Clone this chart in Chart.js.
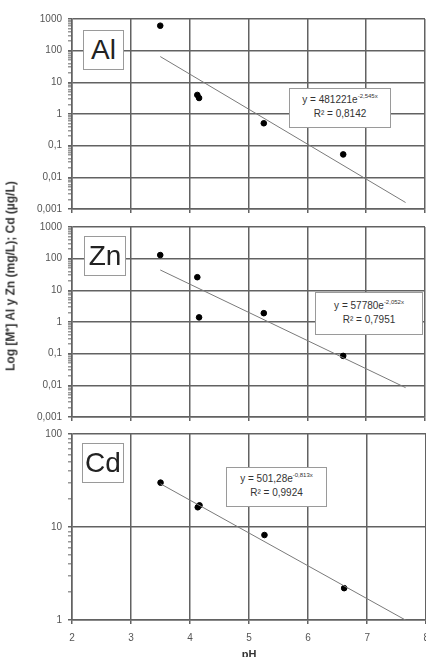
<!DOCTYPE html>
<html>
<head>
<meta charset="utf-8">
<script src="https://cdn.jsdelivr.net/npm/chart.js@4"></script>
<style>
  html, body { margin:0; padding:0; background:#fff; overflow:hidden; }
  body { width:426px; height:657px; position:relative; overflow:hidden; font-family:"Liberation Sans", Arial, sans-serif; }
  .panel { position:absolute; left:0; }
  .elem { position:absolute; border:1.5px solid #9a9a9a; background:#fff; box-sizing:border-box;
          font-size:28px; color:#222; text-align:center; line-height:37px; }
  .eq { position:absolute; border:1px solid #9a9a9a; background:#fff; box-sizing:border-box;
        font-size:10px; color:#333; text-align:center; line-height:14px; padding-top:4px; }
  .eq sup { font-size:6px; vertical-align:5px; line-height:0; }
  .ytitle { position:absolute; left:10px; top:276px; transform:translate(-50%,-50%) rotate(-90deg);
            white-space:nowrap; font-size:12px; font-weight:bold; color:#333; }
</style>
</head>
<body>
<div class="panel" style="top:0;height:221px;width:430px"><canvas id="c1"></canvas></div>
<div class="panel" style="top:215px;height:214px;width:430px"><canvas id="c2"></canvas></div>
<div class="panel" style="top:422px;height:240px;width:437px"><canvas id="c3"></canvas></div>

<div class="elem" style="left:83px;top:30px;width:41px;height:40px;">Al</div>
<div class="elem" style="left:84px;top:236px;width:42px;height:40px;">Zn</div>
<div class="elem" style="left:82px;top:443px;width:42px;height:40px;">Cd</div>

<div class="eq" style="left:289px;top:88px;width:102px;height:40px;">y = 481221e<sup>-2,545x</sup><br>R² = 0,8142</div>
<div class="eq" style="left:315px;top:292px;width:108px;height:43px;padding-top:6px;">y = 57780e<sup>-2,052x</sup><br>R² = 0,7951</div>
<div class="eq" style="left:226px;top:467px;width:101px;height:40px;">y = 501,28e<sup>-0,813x</sup><br>R² = 0,9924</div>

<div class="ytitle">Log [M⁺] Al y Zn (mg/L); Cd (µg/L)</div>

<script>
// ---- data ----
const pH = [3.5, 4.13, 4.16, 5.26, 6.61];
const alValues = [615, 4.0, 3.2, 0.51, 0.053];
const znValues = [130, 26, 1.4, 1.9, 0.085];
const cdValues = [30, 16.3, 17.1, 8.2, 2.2];
// trend line equations y = a * e^(b x)
const alTrend = [481221, -2.545];
const znTrend = [57780, -2.052];
const cdTrend = [501.28, -0.813];
const trendRange = [3.5, 7.67];
const xTicks = [2, 3, 4, 5, 6, 7, 8];
const yMajorAlZn = [0.001, 0.01, 0.1, 1, 10, 100, 1000];
const yLabelsAlZn = ['0,001', '0,01', '0,1', '1', '10', '100', '1000'];
const yMajorCd = [1, 10, 100];
const yLabelsCd = ['1', '10', '100'];

const GRID = '#626262';

function trendPoints(eq) {
  return trendRange.map(x => ({ x: x, y: eq[0] * Math.exp(eq[1] * x) }));
}
function minorTicks(majors) {
  const out = [];
  for (let i = 0; i < majors.length; i++) {
    out.push(majors[i]);
    if (i < majors.length - 1) for (let k = 2; k <= 9; k++) out.push(+(majors[i] * k).toPrecision(3));
  }
  return out;
}
function isMajor(v, majors) { return majors.some(m => Math.abs(v - m) / m < 1e-6); }

function makeChart(id, values, eq, majors, labels, opts) {
  const pts = pH.map((x, i) => ({ x: x, y: values[i] }));
  return new Chart(document.getElementById(id), {
    type: 'scatter',
    data: {
      datasets: [
        { data: trendPoints(eq), type: 'line', borderColor: '#7a7a7a', borderWidth: 1, pointRadius: 0, fill: false },
        { data: pts, backgroundColor: '#000', borderColor: '#000', pointRadius: 2.8 }
      ]
    },
    options: {
      responsive: true, maintainAspectRatio: false, animation: false,
      layout: { padding: { top: opts.padTop, right: 1, left: 0, bottom: 0 } },
      plugins: { legend: { display: false }, tooltip: { enabled: false } },
      scales: {
        x: {
          type: 'linear', min: 2, max: 8,
          afterBuildTicks: s => { s.ticks = xTicks.map(v => ({ value: v })); },
          ticks: { display: opts.showX, color: '#555', font: { size: 10, family: 'Liberation Sans' }, padding: 8 },
          grid: { color: GRID, lineWidth: 1.5, tickLength: 4, tickColor: GRID },
          border: { color: GRID, width: 1.5 },
          title: { display: opts.showX, text: 'pH', color: '#333', font: { size: 11, weight: 'bold', family: 'Liberation Sans' }, padding: { top: 0, bottom: 0 } },
          afterFit: s => { s.height = opts.xHeight; }
        },
        y: {
          type: 'logarithmic', min: majors[0], max: majors[majors.length - 1],
          afterBuildTicks: s => { s.ticks = minorTicks(majors).map(v => ({ value: v, major: isMajor(v, majors) })); },
          ticks: {
            autoSkip: false, color: '#555', font: { size: 10, family: 'Liberation Sans' }, padding: 6,
            callback: v => { const i = majors.findIndex(m => Math.abs(v - m) / m < 1e-6); return i >= 0 ? labels[i] : ''; }
          },
          grid: {
            lineWidth: 1.5, tickLength: 4,
            color: c => isMajor(c.tick.value, majors) ? GRID : 'rgba(0,0,0,0)',
            tickColor: c => isMajor(c.tick.value, majors) ? GRID : '#999'
          },
          border: { color: GRID, width: 1.5 },
          afterFit: s => { s.width = 72; }
        }
      }
    }
  });
}

makeChart('c1', alValues, alTrend, yMajorAlZn, yLabelsAlZn, { padTop: 19, xHeight: 7, showX: false });
makeChart('c2', znValues, znTrend, yMajorAlZn, yLabelsAlZn, { padTop: 11, xHeight: 7, showX: false });
makeChart('c3', cdValues, cdTrend, yMajorCd, yLabelsCd, { padTop: 10, xHeight: 42, showX: true });
</script>
</body>
</html>
